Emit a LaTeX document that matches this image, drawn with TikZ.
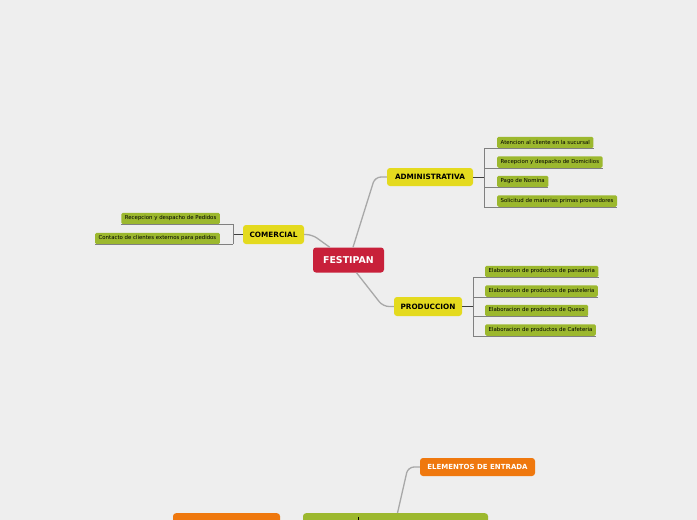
\documentclass[tikz,border=0pt]{standalone}
\usepackage{fontspec}
\setmainfont{DejaVu Sans}
\definecolor{fondo}{HTML}{EEEEEE}
\definecolor{rojo}{HTML}{C8203A}
\definecolor{amarillo}{HTML}{E4DA1E}
\definecolor{verde}{HTML}{9CB82E}
\definecolor{naranja}{HTML}{EF780E}
\definecolor{gris}{HTML}{A8A8A8}

\begin{document}
\begin{tikzpicture}[x=1pt, y=-1pt,
  raiz/.style={fill=rojo, rounded corners=3pt, text=white, font=\fontsize{9.4}{10}\selectfont\bfseries},
  tema/.style={fill=amarillo, rounded corners=3pt, font=\fontsize{7.3}{8}\selectfont\bfseries},
  hoja/.style={fill=verde, rounded corners=1.5pt, minimum height=11.5, inner xsep=3.5pt, inner ysep=0pt, font=\fontsize{5.4}{6}\selectfont},
  caja/.style={fill=naranja, rounded corners=3pt, text=white, font=\fontsize{7}{8}\selectfont\bfseries},
  rama/.style={draw=gris, line width=1.3pt, rounded corners=6pt},
  llave/.style={draw=gray, line width=0.6pt},
  enlace/.style={draw=black!75, line width=0.8pt}]
    \clip (0,0) rectangle (697,520);
    \fill[fondo] (0,0) rectangle (697,520);

    % Nodo central y temas
    \node[raiz, minimum width=71, minimum height=25] (fest) at (348.5,260) {FESTIPAN};
    \node[tema, minimum width=86, minimum height=18] (adm) at (430,177) {ADMINISTRATIVA};
    \node[tema, minimum width=61, minimum height=19] (com) at (273.5,234.5) {COMERCIAL};
    \node[tema, minimum width=68, minimum height=19] (prod) at (428,306.5) {PRODUCCION};

    \draw[rama] ([xshift=4.5pt]fest.north) -- (375,177) -- (adm.west);
    \draw[rama] ([xshift=17pt]fest.north west) -- (312,234.5) -- (com.east);
    \draw[rama] ([xshift=8pt]fest.south) -- (383,306.5) -- (prod.west);

    % ADMINISTRATIVA
    \node[hoja, anchor=west] (adm1) at (497,142.5) {Atencion al cliente en la sucursal};
    \node[hoja, anchor=west] (adm2) at (497,162) {Recepcion y despacho de Domicilios};
    \node[hoja, anchor=west] (adm3) at (497,181.5) {Pago de Nomina};
    \node[hoja, anchor=west] (adm4) at (497,201) {Solicitud de materias primas proveedores};
    \coordinate (admfork) at (484,177);
    \draw[enlace] (adm.east) -- (admfork);
    \draw[llave] (admfork |- adm1.south) -- (admfork |- adm4.south);
    \foreach \h in {adm1,adm2,adm3,adm4}
        \draw[llave] (admfork |- \h.south) -- (\h.south east);

    % PRODUCCION
    \node[hoja, anchor=west] (prod1) at (485,271.5) {Elaboracion de productos de panaderia};
    \node[hoja, anchor=west] (prod2) at (485,291) {Elaboracion de productos de pasteleria};
    \node[hoja, anchor=west] (prod3) at (485,310.5) {Elaboracion de productos de Queso};
    \node[hoja, anchor=west] (prod4) at (485,330) {Elaboracion de productos de Cafeteria};
    \coordinate (prodfork) at (473,306.5);
    \draw[enlace] (prod.east) -- (prodfork);
    \draw[llave] (prodfork |- prod1.south) -- (prodfork |- prod4.south);
    \foreach \h in {prod1,prod2,prod3,prod4}
        \draw[llave] (prodfork |- \h.south) -- (\h.south east);

    % COMERCIAL
    \node[hoja, anchor=east] (com1) at (220,218.5) {Recepcion y despacho de Pedidos};
    \node[hoja, anchor=east] (com2) at (220,238.5) {Contacto de clientes externos para pedidos};
    \coordinate (comfork) at (233,234.5);
    \draw[enlace] (com.west) -- (comfork);
    \draw[llave] (comfork |- com1.south) -- (comfork |- com2.south);
    \foreach \h in {com1,com2}
        \draw[llave] (comfork |- \h.south) -- (\h.south west);

    % Parte inferior
    \node[caja, minimum width=115, minimum height=18] (entrada) at (477.5,467) {ELEMENTOS DE ENTRADA};
    \node[caja, minimum width=107, minimum height=20, anchor=north] (izq) at (226.5,513) {};
    \node[fill=verde, rounded corners=3pt, minimum width=185, minimum height=20, anchor=north] (centro) at (395.5,513) {};
    \draw[rama] ([xshift=2pt]centro.north) -- (408,467) -- (entrada.west);
    \draw[black, line width=0.6pt] (358,517) -- (358,520);
\end{tikzpicture}
\end{document}
